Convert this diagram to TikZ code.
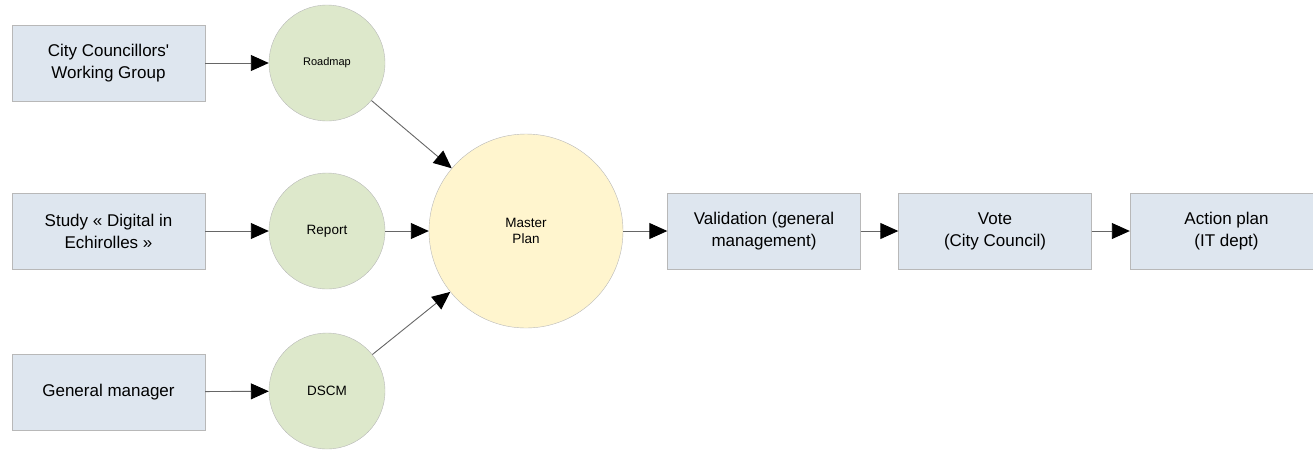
\documentclass[tikz,border=0pt]{standalone}
\usepackage{fontspec}
\setmainfont{Liberation Sans}
\usetikzlibrary{arrows.meta,positioning,shapes}
\definecolor{boxblue}{HTML}{DEE6EF}
\definecolor{circgreen}{HTML}{DDE8CB}
\definecolor{circyellow}{HTML}{FFF5CE}
\definecolor{rimgray}{HTML}{B8B8B8}

\begin{document}
\begin{tikzpicture}[x=1pt, y=-1pt, >={Triangle[length=18pt,width=16pt,color=black]},
	every edge/.style={draw=black!60, line width=0.9pt, ->},
	actor/.style={rectangle, draw=rimgray, fill=boxblue, minimum width=193pt, minimum height=76pt,
		align=center, inner sep=0pt, font=\fontsize{17}{22}\selectfont},
	output/.style={circle, draw=rimgray, fill=circgreen, minimum size=116pt, inner sep=0pt,
		font=\fontsize{13.5}{16}\selectfont},
	plan/.style={circle, draw=rimgray, fill=circyellow, minimum size=194pt, inner sep=0pt,
		align=center, font=\fontsize{13.5}{16}\selectfont}]
	\useasboundingbox (0,0) rectangle (1313,451);
	% sources
	\node[actor]	(ccwg) at (108.5, 63)  {City Councillors\textquotesingle\\Working Group};
	\node[actor]	(study) at (108.5, 231)  {Study « Digital in\\Echirolles »};
	\node[actor]	(gm) at (108.5, 392)  {General manager};
	% intermediate documents
	\node[output, font=\fontsize{11}{13}\selectfont]	(road) at (327, 63)  {Roadmap};
	\node[output]	(report) at (327, 231)  {Report};
	\node[output]	(dscm) at (327, 391)  {DSCM};
	\node[plan]	(master) at (526, 231)  {Master\\Plan};
	% chain
	\node[actor]	(valid) at (764, 231)  {Validation (general\\management)};
	\node[actor]	(vote) at (995, 231)  {Vote\\(City Council)};
	\node[actor]	(action) at (1226.5, 231)  {Action plan\\(IT dept)};
	\path (ccwg) edge (road);
	\path (study) edge (report);
	\path (gm) edge (dscm);
	\path (road) edge (master);
	\path (report) edge (master);
	\path (dscm) edge (master);
	\path (master) edge (valid);
	\path (valid) edge (vote);
	\path (vote) edge (action);
\end{tikzpicture}
\end{document}
